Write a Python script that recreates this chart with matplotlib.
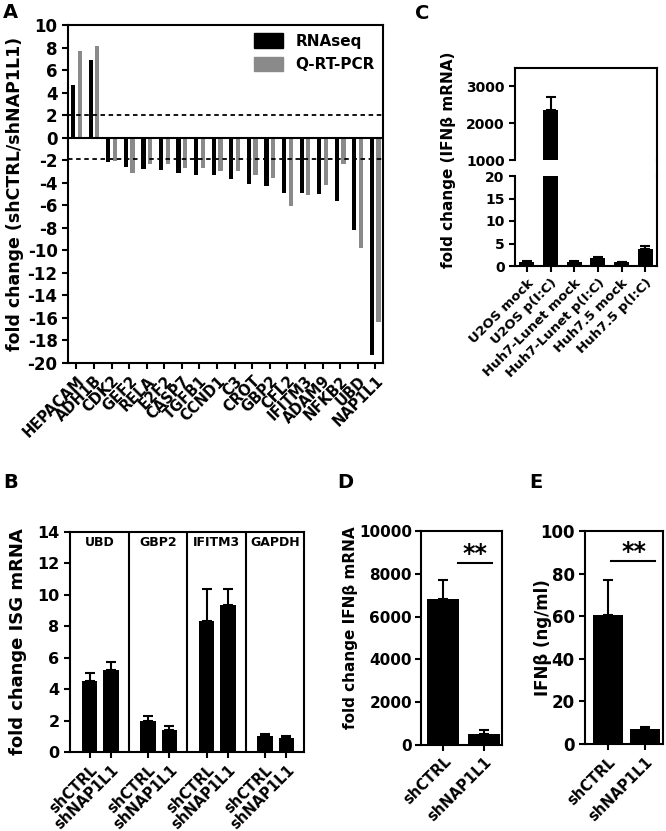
import matplotlib
matplotlib.use("Agg")
import matplotlib.pyplot as plt
from matplotlib.lines import Line2D
from matplotlib.patches import Patch

####> DATA <####
# panel A
genes = ["HEPACAM", "ADH1B", "CDK2", "GEF2", "RELA", "E2F2", "CASP7", "TGFB1", "CCND1",
         "C3", "CROT", "GBP2", "CFL2", "IFITM3", "ADAM9", "NFKB2", "UBD", "NAP1L1"]
rnaseq = [4.7, 6.9, -2.2, -2.6, -2.8, -2.9, -3.1, -3.3, -3.3, -3.7, -4.1, -4.3,
          -4.9, -4.9, -5.0, -5.6, -8.2, -19.3]
qrtpcr = [7.7, 8.1, -2.1, -3.1, -2.3, -2.3, -2.7, -2.7, -3.0, -3.0, -3.3, -3.6,
          -6.1, -5.1, -4.2, -2.3, -9.8, -16.4]
thresholds = [2.0, -1.9]

# panel B
isg_genes = ["UBD", "GBP2", "IFITM3", "GAPDH"]
sh_labels = ["shCTRL", "shNAP1L1"]
b_ctrl = [4.55, 1.95, 8.35, 1.0]
b_ctrl_err = [0.5, 0.35, 2.05, 0.17]
b_nap = [5.25, 1.42, 9.35, 0.9]
b_nap_err = [0.5, 0.22, 1.0, 0.14]

# panel C
cells = ["U2OS mock", "U2OS p(I:C)", "Huh7-Lunet mock", "Huh7-Lunet p(I:C)",
         "Huh7.5 mock", "Huh7.5 p(I:C)"]
c_mean = [0.9, 2350, 0.9, 1.8, 0.8, 3.8]
c_err = [0.15, 350, 0.25, 0.15, 0.2, 0.55]

# panel D
d_mean = [6800, 520]
d_err = [890, 180]

# panel E
e_mean = [60.5, 7.0]
e_err = [16.5, 1.2]

####> STYLE <####
plt.rcParams['font.family'] = ['DejaVu Sans']
plt.rcParams['font.weight'] = 'bold'
plt.rcParams['axes.labelweight'] = 'bold'
plt.rcParams['axes.unicode_minus'] = False
plt.rcParams['axes.linewidth'] = 1.5

W, H = 666, 831
fig = plt.figure(figsize=(W / 100, H / 100), dpi=100)
GREY = "#8a8a8a"


def add_px(x0, y0, x1, y1):
    return fig.add_axes([x0 / W, 1 - y1 / H, (x1 - x0) / W, (y1 - y0) / H])


def style(ax, size, pad=3.5):
    ax.tick_params(direction='out', length=4, width=1.5, labelsize=size, pad=pad)
    for lab in ax.get_xticklabels() + ax.get_yticklabels():
        lab.set_fontweight('bold')


def upper_err(ax, x, y, e):
    ax.errorbar(x, y, yerr=[[0] * len(e), e], fmt='none', ecolor='black',
                elinewidth=1.5, capsize=3.5, capthick=1.5)


def ylabel_px(ax, text, size, x_right, ax_left, ax_width, yfrac=0.5):
    # x_right = right edge of the rotated label, in pixels
    ax.set_ylabel(text, fontsize=size)
    ax.yaxis.set_label_coords((x_right - ax_left) / ax_width, yfrac)


####> PANEL A <####
axA = add_px(68, 25, 383, 363)
xs = list(range(len(genes)))
axA.bar([x - 0.19 for x in xs], rnaseq, width=0.24, color='black', label='RNAseq')
axA.bar([x + 0.19 for x in xs], qrtpcr, width=0.24, color=GREY, label='Q-RT-PCR')
axA.axhline(0, color='black', lw=1.5)
for t in thresholds:
    axA.axhline(t, color='black', lw=1.3, ls=(0, (2.5, 2)))
axA.set_xlim(-0.48, len(genes) - 0.56)
axA.set_ylim(-20, 10)
axA.set_yticks(range(-20, 11, 2))
axA.set_xticks(xs)
axA.set_xticklabels(genes, rotation=45, ha='right', rotation_mode='anchor')
ylabel_px(axA, "fold change (shCTRL/shNAP1L1)", 12.5, 24, 68, 315)
style(axA, 12)
for lab in axA.get_xticklabels():
    lab.set_fontsize(10.5)
axA.legend(handles=[Patch(color='black', label='RNAseq'), Patch(color=GREY, label='Q-RT-PCR')],
           loc='upper right', frameon=False, fontsize=11, handlelength=1.9, handleheight=1.1,
           borderaxespad=0.15, labelspacing=0.5, handletextpad=0.8)

####> PANEL C <####
axCu = add_px(515, 68, 657, 160)
axCl = add_px(515, 176, 657, 266)
xc = list(range(len(cells)))
for ax in (axCu, axCl):
    ax.bar(xc, c_mean, width=0.63, color='black')
    upper_err(ax, xc, c_mean, c_err)
    ax.set_xlim(-0.5, len(cells) - 0.5)
axCu.set_ylim(1000, 3500)
axCu.set_yticks([1000, 2000, 3000])
axCu.spines['bottom'].set_visible(False)
axCu.set_xticks([])
axCl.set_ylim(0, 20)
axCl.set_yticks(range(0, 21, 5))
axCl.spines['top'].set_visible(False)
axCl.set_xticks(xc)
axCl.set_xticklabels(cells, rotation=45, ha='right', rotation_mode='anchor')
style(axCu, 10)
style(axCl, 10)
for lab in axCl.get_xticklabels():
    lab.set_fontsize(9.5)
fig.add_artist(Line2D([657 / W, 657 / W], [1 - 160 / H, 1 - 176 / H], color='black', lw=1.5))
fig.text(448 / W, 1 - 160 / H, "fold change (IFN\u03b2 mRNA)", rotation=90,
         ha='center', va='center', fontsize=11, fontweight='bold')

####> PANEL B <####
axB = add_px(70, 532, 304, 752)
xb_ctrl = [g * 3 + 1.0 for g in range(len(isg_genes))]
xb_nap = [g * 3 + 2.1 for g in range(len(isg_genes))]
axB.bar(xb_ctrl, b_ctrl, width=0.78, color='black')
axB.bar(xb_nap, b_nap, width=0.78, color='black')
upper_err(axB, xb_ctrl, b_ctrl, b_ctrl_err)
upper_err(axB, xb_nap, b_nap, b_nap_err)
for g in range(1, len(isg_genes)):
    axB.axvline(g * 3, color='black', lw=1.5)
for g, name in enumerate(isg_genes):
    axB.text(g * 3 + 1.5, 13.3, name, ha='center', va='center', fontsize=9, fontweight='bold')
axB.set_xlim(0, 12)
axB.set_ylim(0, 14)
axB.set_yticks(range(0, 15, 2))
axB.set_xticks(xb_ctrl + xb_nap)
axB.set_xticklabels([sh_labels[0]] * 4 + [sh_labels[1]] * 4, rotation=45,
                    ha='right', rotation_mode='anchor')
ylabel_px(axB, "fold change ISG mRNA", 13, 27, 70, 234)
style(axB, 11.5)
for lab in axB.get_xticklabels():
    lab.set_fontsize(10.5)

####> PANEL D <####
axD = add_px(421, 531, 502, 745)
axD.bar([0, 1], d_mean, width=0.8, color='black')
upper_err(axD, [0, 1], d_mean, d_err)
axD.plot([0.36, 1.2], [8500, 8500], color='black', lw=1.5)
axD.text(0.78, 8350, "**", ha='center', va='bottom', fontsize=17, fontweight='bold')
axD.set_xlim(-0.55, 1.45)
axD.set_ylim(0, 10000)
axD.set_yticks(range(0, 10001, 2000))
axD.set_xticks([0, 1])
axD.set_xticklabels(sh_labels, rotation=45, ha='right', rotation_mode='anchor')
ylabel_px(axD, "fold change IFN\u03b2 mRNA", 11, 358, 421, 81, 0.55)
style(axD, 11, pad=2.5)
for lab in axD.get_xticklabels():
    lab.set_fontsize(10.5)

####> PANEL E <####
axE = add_px(585, 531, 663, 744)
axE.bar([0, 1], e_mean, width=0.8, color='black')
upper_err(axE, [0, 1], e_mean, e_err)
axE.plot([0.08, 1.27], [86, 86], color='black', lw=1.5)
axE.text(0.7, 84.5, "**", ha='center', va='bottom', fontsize=17, fontweight='bold')
axE.set_xlim(-0.62, 1.49)
axE.set_ylim(0, 100)
axE.set_yticks(range(0, 101, 20))
axE.set_xticks([0, 1])
axE.set_xticklabels(sh_labels, rotation=45, ha='right', rotation_mode='anchor')
ylabel_px(axE, "IFN\u03b2 (ng/ml)", 12, 552, 585, 78)
style(axE, 12)
for lab in axE.get_xticklabels():
    lab.set_fontsize(10.5)

####> PANEL LETTERS <####
for letter, x, y in [("A", 3, 3), ("B", 3, 473), ("C", 415, 4), ("D", 337, 473), ("E", 529, 473)]:
    fig.text(x / W, 1 - y / H, letter, ha='left', va='top', fontsize=14, fontweight='bold')

fig.savefig("out.png", dpi=100)
